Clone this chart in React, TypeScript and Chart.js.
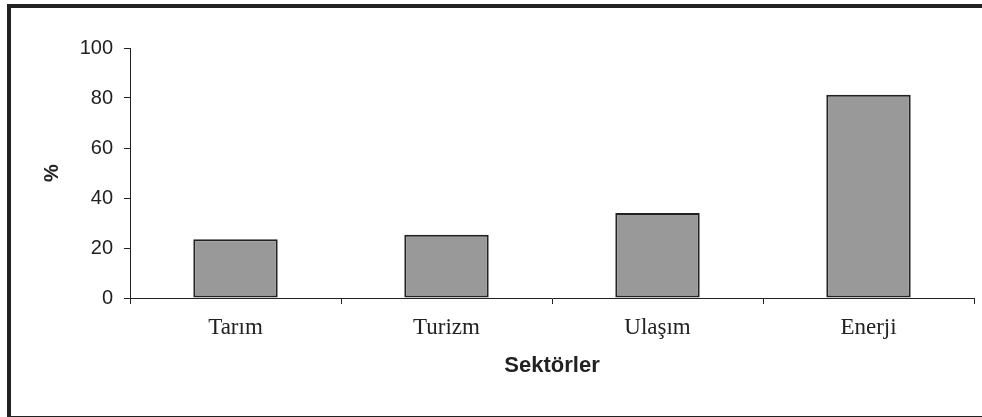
import React, { useEffect, useRef } from "react";
import { Chart, registerables } from "chart.js";

Chart.register(...registerables);

const categories = ["Tarım", "Turizm", "Ulaşım", "Enerji"];
const values = [23.5, 25.3, 34, 81.3];
const yTicks = [0, 20, 40, 60, 80, 100];
const yTitle = "%";
const xTitle = "Sektörler";

export default function App() {
  const ref = useRef<HTMLCanvasElement | null>(null);

  useEffect(() => {
    if (!ref.current) return;
    const chart = new Chart(ref.current, {
      type: "bar",
      data: {
        labels: categories,
        datasets: [
          {
            data: values,
            backgroundColor: "#999999",
            borderColor: "#222222",
            borderWidth: 2,
            borderSkipped: false,
            barPercentage: 0.4,
            categoryPercentage: 1,
          },
        ],
      },
      options: {
        responsive: false,
        animation: false,
        layout: { padding: { left: 0, right: 8, top: 48, bottom: 0 } },
        plugins: {
          legend: { display: false },
          tooltip: { enabled: false },
        },
        scales: {
          x: {
            grid: {
              display: true,
              drawOnChartArea: false,
              drawTicks: true,
              tickLength: 6,
              color: "#222",
              offset: true,
            },
            border: { display: true, color: "#222", width: 1 },
            ticks: {
              color: "#222",
              padding: 10,
              font: { family: "'Liberation Serif', 'Times New Roman', serif", size: 23 },
            },
            title: {
              display: true,
              text: xTitle,
              color: "#222",
              font: { family: "'Liberation Sans', Arial, sans-serif", size: 22, weight: "bold" },
              padding: { top: 0, bottom: 38 },
            },
            afterFit: (scale: any) => {
              scale.height = 119;
            },
          },
          y: {
            min: 0,
            max: 100,
            afterBuildTicks: (scale: any) => {
              scale.ticks = yTicks.map((v) => ({ value: v }));
            },
            grid: {
              display: true,
              drawOnChartArea: false,
              drawTicks: true,
              tickLength: 6,
              color: "#222",
            },
            border: { display: true, color: "#222", width: 1 },
            ticks: {
              color: "#222",
              padding: 11,
              font: { family: "'Liberation Sans', Arial, sans-serif", size: 20 },
            },
            title: {
              display: true,
              text: yTitle,
              color: "#222",
              font: { family: "'Liberation Sans', Arial, sans-serif", size: 20, weight: "bold" },
              padding: { top: 40, bottom: 0 },
            },
            afterFit: (scale: any) => {
              scale.width = 130;
            },
          },
        },
      },
    });
    return () => chart.destroy();
  }, []);

  return (
    <div
      style={{
        position: "absolute",
        left: 0,
        top: 0,
        width: 982,
        height: 417,
        overflow: "hidden",
        background: "#fff",
      }}
    >
      <div
        style={{
          position: "absolute",
          left: 7,
          top: 4,
          width: 1000,
          height: 408,
          borderLeft: "4px solid #222",
          borderTop: "4px solid #222",
          borderBottom: "3px solid #222",
          boxSizing: "content-box",
        }}
      />
      <canvas
        ref={ref}
        width={982}
        height={417}
        style={{ position: "absolute", left: 0, top: 0, width: 982, height: 417 }}
      />
    </div>
  );
}
